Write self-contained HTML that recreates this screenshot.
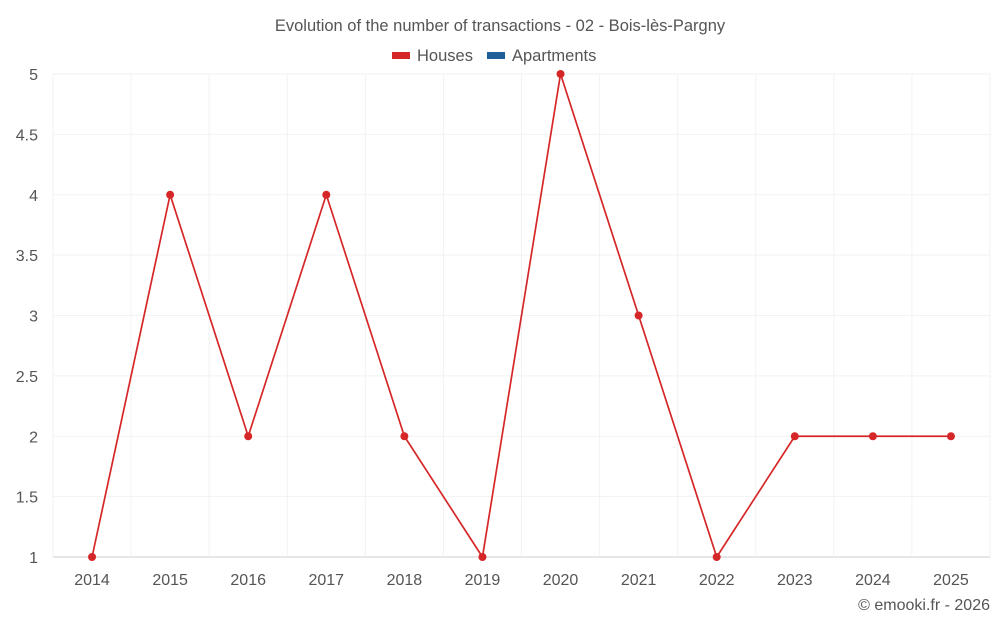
<!DOCTYPE html>
<html><head><meta charset="utf-8"><style>
body{margin:0;background:#fff;font-family:"Liberation Sans",sans-serif;}
svg text{font-family:"Liberation Sans",sans-serif;fill:#555;}
</style></head><body>
<svg id="chart" width="1000" height="625">
<text x="500" y="31" text-anchor="middle" font-size="16.5">Evolution of the number of transactions - 02 - Bois-lès-Pargny</text>
<g>
<rect x="392" y="52" width="18" height="7" fill="#d62728"></rect>
<text x="417" y="61" font-size="16.5">Houses</text>
<rect x="487" y="52" width="18" height="7" fill="#1f5f99"></rect>
<text x="512" y="61" font-size="16.5">Apartments</text>
</g>
<g id="grid"></g><g id="axes"></g><g id="series"></g>
<text x="990" y="610" text-anchor="end" font-size="16">© emooki.fr - 2026</text>
</svg>
<script>
const categories=["2014","2015","2016","2017","2018","2019","2020","2021","2022","2023","2024","2025"];
const houses=[1,4,2,4,2,1,5,3,1,2,2,2];
const yTicks=[1,1.5,2,2.5,3,3.5,4,4.5,5];
const NS="http://www.w3.org/2000/svg";
const L=53,R=990,T=74,B=557,yMin=1,yMax=5;
const bw=(R-L)/categories.length;
const xs=i=>L+bw*(i+0.5);
const ys=v=>B-(v-yMin)/(yMax-yMin)*(B-T);
function mk(tag,attrs,parent){const e=document.createElementNS(NS,tag);for(const k in attrs)e.setAttribute(k,attrs[k]);parent.appendChild(e);return e;}
const grid=document.getElementById('grid'),axes=document.getElementById('axes'),ser=document.getElementById('series');
yTicks.forEach(t=>{
 const l=mk('line',{x1:L,x2:R,y1:ys(t),y2:ys(t),stroke:t===yMin?'#ccc':'#f2f2f2'},grid);
 
 
 const tx=mk('text',{x:38,y:ys(t)+6,'text-anchor':'end','font-size':16},axes);
 tx.textContent=t;
 
 
});
for(let i=0;i<=categories.length;i++){
 const l=mk('line',{x1:L+bw*i,x2:L+bw*i,y1:T,y2:B,stroke:'#f2f2f2'},grid);
 
 
}
categories.forEach((c,i)=>{
 const tx=mk('text',{x:xs(i),y:585,'text-anchor':'middle','font-size':16},axes);
 tx.textContent=c;
 
 
});
const line=mk('polyline',{points:houses.map((v,i)=>xs(i)+','+ys(v)).join(' '),fill:'none',stroke:'#d62728','stroke-width':1.7},ser);


houses.forEach((v,i)=>{
 const c=mk('circle',{cx:xs(i),cy:ys(v),r:4,fill:'#d62728'},ser);
 
 
});
</script>
</body></html>
